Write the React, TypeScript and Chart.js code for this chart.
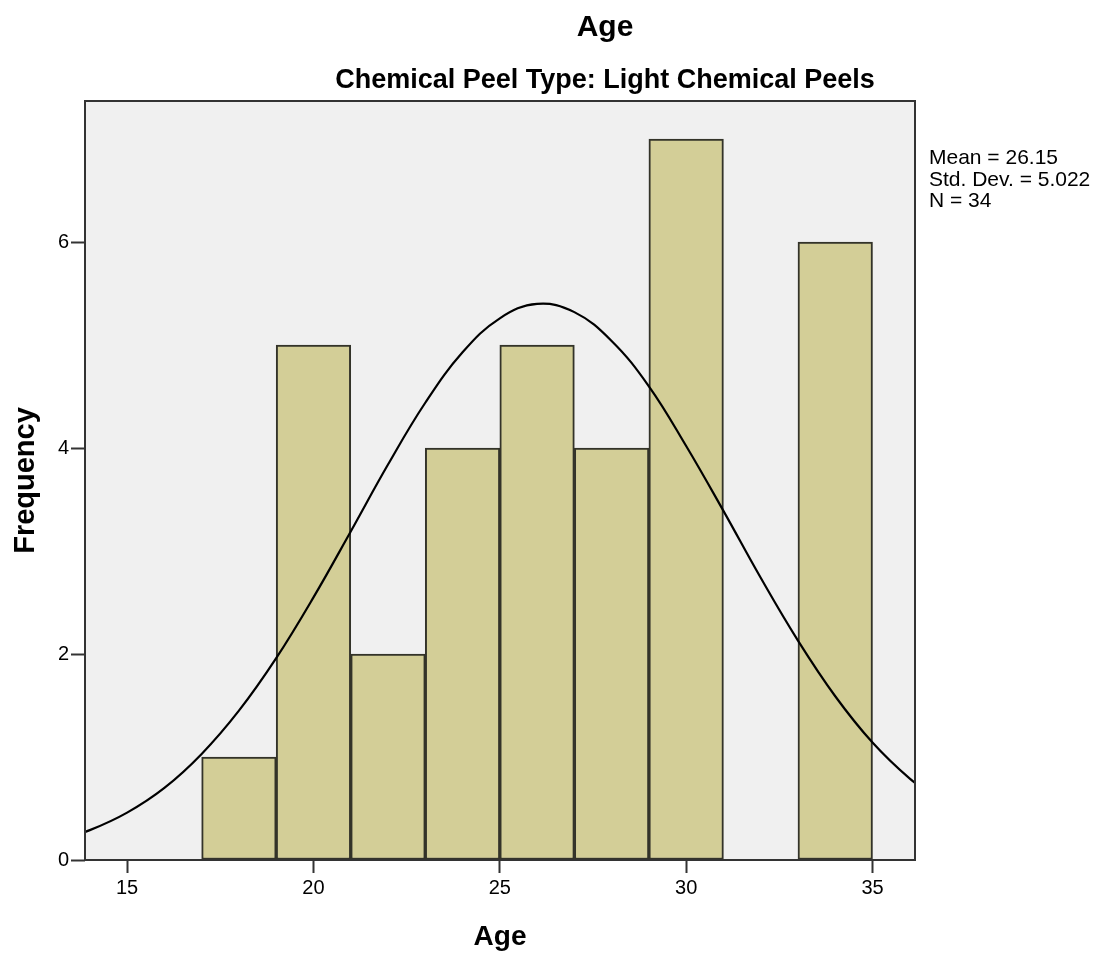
import React, { useEffect, useRef } from "react";
import { Chart, registerables } from "chart.js";

Chart.register(...registerables);

const chartTitle = "Age";
const chartSubtitle = "Chemical Peel Type: Light Chemical Peels";
const xAxisTitle = "Age";
const yAxisTitle = "Frequency";
const statLines = ["Mean = 26.15", "Std. Dev. = 5.022", "N = 34"];

const ageTicks = [15, 20, 25, 30, 35];
const freqTicks = [0, 2, 4, 6];

const binCenters = [18, 20, 22, 24, 26, 28, 30, 32, 34];
const binFrequencies = [1, 5, 2, 4, 5, 4, 7, 0, 6];

const curveAges = [13, 14, 15, 16, 17, 18, 19, 20, 21, 22, 23, 24, 25, 26, 27, 28, 29, 30, 31, 32, 33, 34, 35, 36, 37];
const curveFrequencies = [0.17, 0.29, 0.46, 0.7, 1.03, 1.45, 1.96, 2.55, 3.19, 3.84, 4.44, 4.93, 5.26, 5.4, 5.32, 5.04, 4.6, 4.02, 3.39, 2.74, 2.13, 1.59, 1.14, 0.79, 0.52];

const FONT = "'Liberation Sans', Arial, Helvetica, sans-serif";

const decorPlugin = {
  id: "decor",
  beforeDraw(chart: any) {
    const { ctx, chartArea: a } = chart;
    ctx.save();
    ctx.fillStyle = "#F0F0F0";
    ctx.fillRect(a.left, a.top, a.right - a.left, a.bottom - a.top);
    ctx.restore();
  },
  afterDraw(chart: any) {
    const { ctx, chartArea: a } = chart;
    ctx.save();
    ctx.strokeStyle = "#333333";
    ctx.lineWidth = 2;
    ctx.strokeRect(a.left, a.top, a.right - a.left, a.bottom - a.top);

    ctx.fillStyle = "#000";
    ctx.textBaseline = "alphabetic";
    ctx.textAlign = "center";
    ctx.font = `bold 30px ${FONT}`;
    ctx.fillText(chartTitle, 605, 36);
    ctx.font = `bold 27px ${FONT}`;
    ctx.fillText(chartSubtitle, 605, 88);
    ctx.font = `bold 28px ${FONT}`;
    ctx.fillText(xAxisTitle, (a.left + a.right) / 2, 945);
    ctx.save();
    ctx.translate(34, (a.top + a.bottom) / 2);
    ctx.rotate(-Math.PI / 2);
    ctx.font = `bold 29px ${FONT}`;
    ctx.fillText(yAxisTitle, 0, 0);
    ctx.restore();
    ctx.textAlign = "left";
    ctx.font = `21px ${FONT}`;
    const baselines = [164, 186, 207];
    statLines.forEach((s, i) => ctx.fillText(s, 929, baselines[i]));
    ctx.restore();
  },
};

export default function App() {
  const ref = useRef<HTMLCanvasElement | null>(null);
  useEffect(() => {
    if (!ref.current) return;
    const bars = binCenters.map((x, i) => ({ x, y: binFrequencies[i] === 0 ? null : binFrequencies[i] }));
    const curve = curveAges.map((x, i) => ({ x, y: curveFrequencies[i] }));
    const chart = new Chart(ref.current, {
      type: "bar",
      data: {
        datasets: [
          {
            type: "line",
            data: curve,
            borderColor: "#000000",
            borderWidth: 2.2,
            pointRadius: 0,
            tension: 0.4,
            fill: false,
            order: 0,
          } as any,
          {
            type: "bar",
            data: bars as any,
            backgroundColor: "#D3CE97",
            borderColor: "#333329",
            borderWidth: 2,
            borderSkipped: false,
            barPercentage: 1,
            categoryPercentage: 1,
            order: 1,
          } as any,
        ],
      },
      options: {
        animation: false,
        responsive: false,
        devicePixelRatio: 1,
        layout: { padding: { left: 0, top: 101, right: 189, bottom: 0 } },
        plugins: { legend: { display: false }, tooltip: { enabled: false }, title: { display: false } },
        scales: {
          x: {
            type: "linear",
            min: 13.87,
            max: 36.14,
            offset: false,
            afterBuildTicks: (axis: any) => {
              axis.ticks = ageTicks.map((v) => ({ value: v }));
            },
            afterFit: (axis: any) => {
              axis.height = 95;
            },
            grid: { offset: false, drawOnChartArea: false, drawTicks: true, tickLength: 13, tickColor: "#333333", tickWidth: 2 },
            border: { display: false },
            ticks: { font: { family: FONT, size: 20 }, color: "#000", padding: 3, maxRotation: 0, autoSkip: false },
          },
          y: {
            type: "linear",
            min: 0,
            max: 7.37,
            afterBuildTicks: (axis: any) => {
              axis.ticks = freqTicks.map((v) => ({ value: v }));
            },
            afterFit: (axis: any) => {
              axis.width = 85;
            },
            grid: { drawOnChartArea: false, drawTicks: true, tickLength: 14, tickColor: "#333333", tickWidth: 2 },
            border: { display: false },
            ticks: { font: { family: FONT, size: 20 }, color: "#000", padding: 2, autoSkip: false },
          },
        },
      },
      plugins: [decorPlugin],
    });
    return () => chart.destroy();
  }, []);
  return (
    <div style={{ position: "absolute", left: 0, top: 0, width: 1104, height: 955, background: "#fff" }}>
      <canvas ref={ref} width={1104} height={955} style={{ width: 1104, height: 955, display: "block" }} />
    </div>
  );
}
